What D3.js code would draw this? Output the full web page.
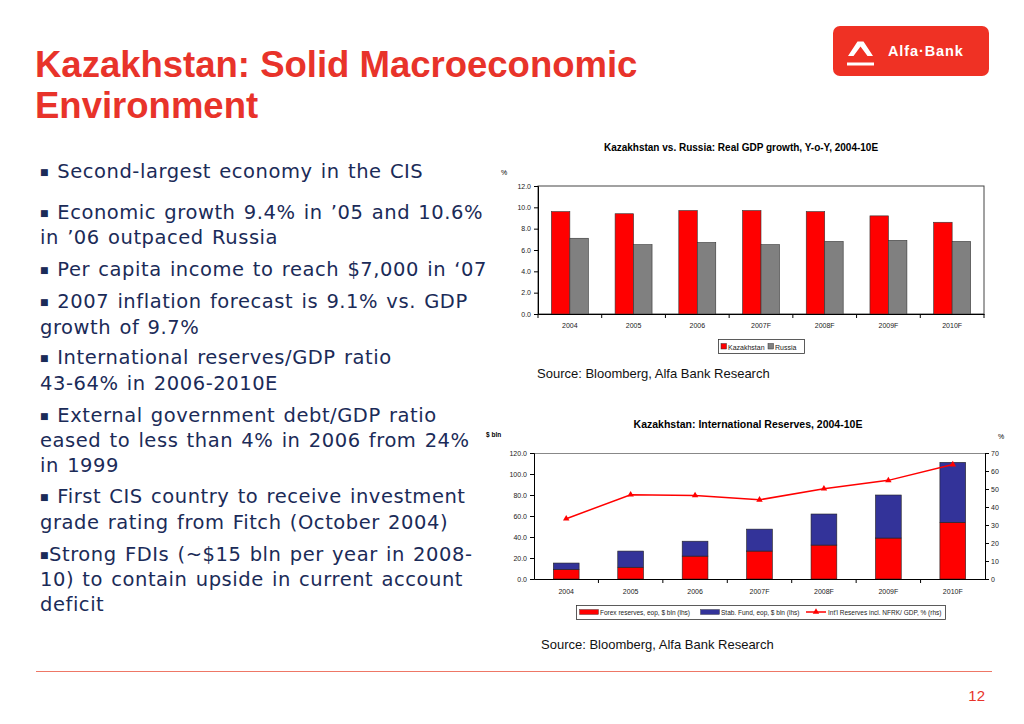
<!DOCTYPE html>
<html><head><meta charset="utf-8">
<script src="https://cdn.jsdelivr.net/npm/d3@7"></script>
<style>
html,body{margin:0;padding:0;background:#fff;}
svg{display:block;}
</style></head>
<body>
<svg id="c" width="1024" height="724"></svg>
<script>
// ---------- data ----------
const years = ["2004","2005","2006","2007F","2008F","2009F","2010F"];
const gdpSeries = ["Kazakhstan","Russia"];
const gdpKazakhstan = [9.6, 9.4, 9.7, 9.7, 9.6, 9.2, 8.6];
const gdpRussia = [7.1, 6.5, 6.7, 6.5, 6.8, 6.9, 6.8];
const gdpTicks = [0,2,4,6,8,10,12];

const resSeries = ["Forex reserves, eop, $ bln (lhs)","Stab. Fund, eop, $ bln (lhs)","Int'l Reserves incl. NFRK/ GDP, % (rhs)"];
const forexReserves = [9.2, 11.2, 21.8, 26.6, 32.3, 39.0, 54.0];
const stabFund = [6.0, 15.4, 14.2, 20.9, 29.6, 41.0, 57.1];
const reservesToGdp = [33.5, 46.8, 46.4, 44.0, 50.2, 54.8, 63.6];
const resLeftTicks = [0,20,40,60,80,100,120];
const resRightTicks = [0,10,20,30,40,50,60,70];

// bullets: [bulletSpace, lines...]
const bullets = [
  [" ", "Second-largest economy in the CIS"],
  [" ", "Economic growth 9.4% in \u201905 and 10.6%","in \u201906 outpaced Russia"],
  [" ", "Per capita income to reach $7,000 in \u201807"],
  [" ", "2007 inflation forecast is 9.1% vs. GDP","growth of 9.7%"],
  [" ", "International reserves/GDP ratio","43-64% in 2006-2010E"],
  [" ", "External government debt/GDP ratio","eased to less than 4% in 2006 from 24%","in 1999"],
  [" ", "First CIS country to receive investment","grade rating from Fitch (October 2004)"],
  ["", "Strong FDIs (~$15 bln per year in 2008-","10) to contain upside in current account","deficit"]
];

// ---------- page ----------
const svg = d3.select("#c");
const RED = "#e8332a";
const NAVY = "#1b2b58";
const AX = "Liberation Sans, Arial, sans-serif";

svg.append("text").attr("x",35).attr("y",77).attr("fill",RED)
  .attr("font-family",AX).attr("font-weight","bold").attr("font-size",36.5)
  .text("Kazakhstan: Solid Macroeconomic");
svg.append("text").attr("x",35).attr("y",118).attr("fill",RED)
  .attr("font-family",AX).attr("font-weight","bold").attr("font-size",36.5)
  .text("Environment");

// logo
const logo = svg.append("g");
logo.append("rect").attr("x",833).attr("y",26).attr("width",156).attr("height",50).attr("rx",7).attr("fill","#ef3124");
logo.append("path").attr("d","M848,56 L857.5,41.5 L863.5,41.5 L873,56 L867.5,56 L860.5,46.5 L853.5,56 Z").attr("fill","#fff");
logo.append("rect").attr("x",847).attr("y",62.5).attr("width",27).attr("height",3).attr("fill","#fff");
logo.append("text").attr("x",888).attr("y",56).attr("fill","#fff").attr("font-family",AX)
  .attr("font-weight","bold").attr("font-size",14.5).attr("letter-spacing",0.9).text("Alfa\u00B7Bank");

// bullets
const lineBase = [[178],[219,244],[276],[308,334],[364,390],[422,447,472],[503,529],[561,586,611]];
bullets.forEach((b,i)=>{
  const sp = b[0];
  b.slice(1).forEach((t,j)=>{
    const tx = svg.append("text").attr("x",40).attr("y",lineBase[i][j]).attr("fill",NAVY)
      .attr("font-family","DejaVu Sans, Verdana, sans-serif").attr("font-size",19.5)
      .attr("letter-spacing",0.55).attr("word-spacing",1.5);
    if(j===0){
      tx.append("tspan").attr("font-size",9).attr("dy",-3).text("\u25A0");
      tx.append("tspan").attr("dy",3).text(sp + t);
    } else {
      tx.text(t);
    }
  });
});

// bottom rule and page number
svg.append("line").attr("x1",36).attr("x2",992).attr("y1",671.5).attr("y2",671.5).attr("stroke","#ee7766").attr("stroke-width",1);
svg.append("text").attr("x",985).attr("y",701).attr("text-anchor","end").attr("fill",RED)
  .attr("font-family",AX).attr("font-size",15).text("12");

// ---------- chart 1 ----------
{
  const L=538, R=984, T=186, B=314;
  const g = svg.append("g");
  g.append("text").attr("x",741).attr("y",151).attr("text-anchor","middle").attr("font-family",AX)
    .attr("font-weight","bold").attr("font-size",10).text("Kazakhstan vs. Russia: Real GDP growth, Y-o-Y, 2004-10E");
  g.append("text").attr("x",501).attr("y",175).attr("font-family",AX).attr("font-size",7).text("%");
  const x0 = d3.scaleBand().domain(years).range([L,R]).paddingInner(0.42).paddingOuter(0.21);
  const x1 = d3.scaleBand().domain(gdpSeries).range([0,x0.bandwidth()]);
  const y = d3.scaleLinear().domain([0,12]).range([B,T]);
  const col = {"Kazakhstan":"#ff0000","Russia":"#808080"};
  const vals = {"Kazakhstan":gdpKazakhstan,"Russia":gdpRussia};
  // frame
  g.append("rect").attr("x",L).attr("y",T).attr("width",R-L).attr("height",B-T).attr("fill","none").attr("stroke","#444").attr("stroke-width",1);
  gdpSeries.forEach(s=>{
    g.selectAll(null).data(years).enter().append("rect")
      .attr("x",d=>x0(d)+x1(s)).attr("width",x1.bandwidth())
      .attr("y",(d,i)=>y(vals[s][i])).attr("height",(d,i)=>B-y(vals[s][i]))
      .attr("fill",col[s]).attr("stroke","#333").attr("stroke-width",0.6);
  });
  const ya = d3.axisLeft(y).tickValues(gdpTicks).tickFormat(d3.format(".1f")).tickSize(4).tickPadding(3);
  const yg = g.append("g").attr("transform",`translate(${L},0)`).call(ya);
  yg.select(".domain").attr("stroke","#000");
  yg.selectAll("text").attr("font-family",AX).attr("font-size",7).attr("fill","#222");
  const xa = d3.axisBottom(x0).tickSize(0).tickPadding(9);
  const xg = g.append("g").attr("transform",`translate(0,${B})`).call(xa);
  xg.select(".domain").attr("stroke","#000");
  xg.selectAll("text").attr("font-family",AX).attr("font-size",7).attr("fill","#222");
  const step = x0.step();
  g.selectAll(null).data(d3.range(years.length+1)).enter().append("line")
    .attr("x1",i=>L+i*step).attr("x2",i=>L+i*step).attr("y1",B).attr("y2",B+4).attr("stroke","#000");
  // legend
  const lg = g.append("g");
  lg.append("rect").attr("x",718.5).attr("y",339.5).attr("width",86).attr("height",14).attr("fill","#fff").attr("stroke","#333").attr("stroke-width",0.8);
  const items = [{s:"Kazakhstan",x:721},{s:"Russia",x:768}];
  items.forEach(it=>{
    lg.append("rect").attr("x",it.x).attr("y",343.5).attr("width",5.5).attr("height",5.5).attr("fill",col[it.s]).attr("stroke","#333").attr("stroke-width",0.5);
    lg.append("text").attr("x",it.x+7).attr("y",349.5).attr("font-family",AX).attr("font-size",7).attr("fill","#222").text(it.s);
  });
  svg.append("text").attr("x",537).attr("y",378).attr("font-family",AX).attr("font-size",13).attr("fill","#111")
    .text("Source: Bloomberg, Alfa Bank Research");
}

// ---------- chart 2 ----------
{
  const L=534, R=985, T=453, B=579;
  const g = svg.append("g");
  g.append("text").attr("x",748).attr("y",428).attr("text-anchor","middle").attr("font-family",AX)
    .attr("font-weight","bold").attr("font-size",10.5).text("Kazakhstan: International Reserves, 2004-10E");
  g.append("text").attr("x",486).attr("y",437).attr("font-family",AX).attr("font-weight","bold").attr("font-size",6.5).text("$ bln");
  g.append("text").attr("x",998).attr("y",439).attr("font-family",AX).attr("font-size",7).text("%");
  const x = d3.scaleBand().domain(years).range([L,R]).paddingInner(0.6).paddingOuter(0.3);
  const yL = d3.scaleLinear().domain([0,120]).range([B,T]);
  const yR = d3.scaleLinear().domain([0,70]).range([B,T]);
  g.append("line").attr("x1",L).attr("x2",R).attr("y1",T+0.5).attr("y2",T+0.5).attr("stroke","#888");
  const stackData = years.map((d,i)=>({year:d,forex:forexReserves[i],stab:stabFund[i]}));
  const stack = d3.stack().keys(["forex","stab"])(stackData);
  const scol = {forex:"#ff0000",stab:"#333399"};
  stack.forEach(layer=>{
    g.selectAll(null).data(layer).enter().append("rect")
      .attr("x",d=>x(d.data.year)).attr("width",x.bandwidth())
      .attr("y",d=>yL(d[1])).attr("height",d=>yL(d[0])-yL(d[1]))
      .attr("fill",scol[layer.key]).attr("stroke","#222").attr("stroke-width",0.6);
  });
  const line = d3.line().x((d,i)=>x(years[i])+x.bandwidth()/2).y(d=>yR(d));
  g.append("path").datum(reservesToGdp).attr("d",line).attr("fill","none").attr("stroke","#ff0000").attr("stroke-width",1.5);
  const tri = d3.symbol().type(d3.symbolTriangle).size(18);
  g.selectAll(null).data(reservesToGdp).enter().append("path").attr("d",tri)
    .attr("transform",(d,i)=>`translate(${x(years[i])+x.bandwidth()/2},${yR(d)})`).attr("fill","#ff0000");
  const yla = d3.axisLeft(yL).tickValues(resLeftTicks).tickFormat(d3.format(".1f")).tickSize(4).tickPadding(3);
  const ylg = g.append("g").attr("transform",`translate(${L},0)`).call(yla);
  ylg.select(".domain").attr("stroke","#000");
  ylg.selectAll("text").attr("font-family",AX).attr("font-size",7).attr("fill","#222");
  const yra = d3.axisRight(yR).tickValues(resRightTicks).tickFormat(d3.format("d")).tickSize(4).tickPadding(2);
  const yrg = g.append("g").attr("transform",`translate(${R},0)`).call(yra);
  yrg.select(".domain").attr("stroke","#000");
  yrg.selectAll("text").attr("font-family",AX).attr("font-size",7).attr("fill","#222");
  const xa = d3.axisBottom(x).tickSize(0).tickPadding(10);
  const xg = g.append("g").attr("transform",`translate(0,${B})`).call(xa);
  xg.select(".domain").attr("stroke","#000");
  xg.selectAll("text").attr("font-family",AX).attr("font-size",7).attr("fill","#222");
  const step = x.step();
  g.selectAll(null).data(d3.range(1,years.length)).enter().append("line")
    .attr("x1",i=>L+i*step).attr("x2",i=>L+i*step).attr("y1",B).attr("y2",B+4).attr("stroke","#000");
  // legend
  const lg = g.append("g");
  lg.append("rect").attr("x",576.5).attr("y",605.5).attr("width",369).attr("height",14).attr("fill","#fff").attr("stroke","#333").attr("stroke-width",0.8);
  lg.append("rect").attr("x",579.5).attr("y",609.5).attr("width",19).attr("height",5).attr("fill","#ff0000").attr("stroke","#333").attr("stroke-width",0.4);
  lg.append("text").attr("x",600).attr("y",615).attr("font-family",AX).attr("font-size",6.5).attr("fill","#222").text(resSeries[0]);
  lg.append("rect").attr("x",700.5).attr("y",609.5).attr("width",19).attr("height",5).attr("fill","#333399").attr("stroke","#333").attr("stroke-width",0.4);
  lg.append("text").attr("x",721).attr("y",615).attr("font-family",AX).attr("font-size",6.5).attr("fill","#222").text(resSeries[1]);
  lg.append("line").attr("x1",806).attr("x2",826).attr("y1",612).attr("y2",612).attr("stroke","#ff0000").attr("stroke-width",1.5);
  lg.append("path").attr("d",tri).attr("transform","translate(816,612)").attr("fill","#ff0000");
  lg.append("text").attr("x",828).attr("y",615).attr("font-family",AX).attr("font-size",6.5).attr("fill","#222").text(resSeries[2]);
  svg.append("text").attr("x",541).attr("y",649).attr("font-family",AX).attr("font-size",13).attr("fill","#111")
    .text("Source: Bloomberg, Alfa Bank Research");
}
</script>
</body></html>
